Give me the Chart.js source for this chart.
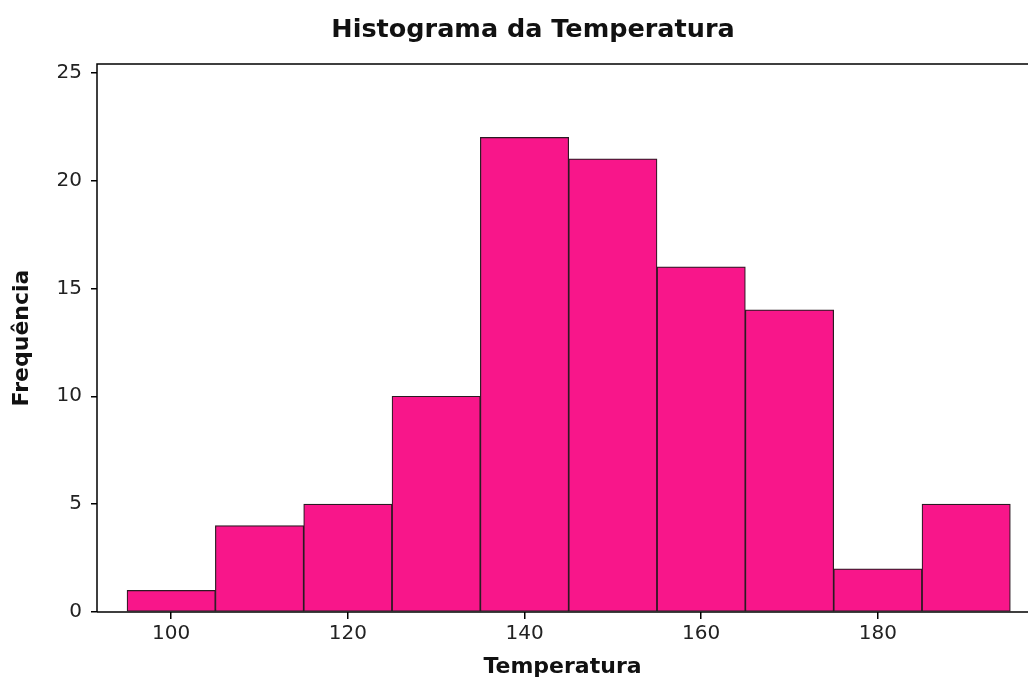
<!DOCTYPE html>
<html>
<head>
<meta charset="utf-8">
<script src="https://cdn.jsdelivr.net/npm/chart.js@4.4.1/dist/chart.umd.min.js"></script>
<style>
html,body{margin:0;padding:0;background:#fff;}
#wrap{width:1028px;height:684px;position:relative;}
</style>
</head>
<body>
<div id="wrap"><canvas id="c" width="1028" height="684"></canvas></div>
<script>
// Histogram data
const binCenters = [100, 110, 120, 130, 140, 150, 160, 170, 180, 190];
const frequencies = [1, 4, 5, 10, 22, 21, 16, 14, 2, 5];
const xTickValues = [100, 120, 140, 160, 180];
const yTickValues = [0, 5, 10, 15, 20, 25];
const titleText = 'Histograma da Temperatura';
const xLabel = 'Temperatura';
const yLabel = 'Frequência';

const points = binCenters.map((c, i) => ({x: c, y: frequencies[i]}));

const frame = {
  id: 'frame',
  afterDatasetsDraw(chart) {
    const a = chart.chartArea, ctx = chart.ctx;
    ctx.save();
    ctx.strokeStyle = '#000';
    ctx.lineWidth = 1.5;
    ctx.beginPath();
    ctx.moveTo(a.left, a.bottom);
    ctx.lineTo(a.left, a.top);
    ctx.lineTo(a.right, a.top);
    ctx.moveTo(a.left, a.bottom);
    ctx.lineTo(a.right, a.bottom);
    ctx.stroke();
    ctx.restore();
  }
};

const titleDraw = {
  id: 'titleDraw',
  afterDraw(chart) {
    const ctx = chart.ctx;
    ctx.save();
    ctx.fillStyle = '#111';
    ctx.font = 'bold 25.5px "DejaVu Sans"';
    ctx.textAlign = 'center';
    ctx.textBaseline = 'middle';
    ctx.fillText(titleText, 533, 30);
    ctx.restore();
  }
};

new Chart(document.getElementById('c'), {
  type: 'bar',
  data: {
    datasets: [{
      data: points,
      backgroundColor: '#F8168A',
      borderColor: '#2a1a22',
      borderWidth: 1.2,
      barPercentage: 1,
      categoryPercentage: 1,
      borderSkipped: false
    }]
  },
  options: {
    responsive: false,
    animation: false,
    layout: {padding: {left: 0, right: 0, top: 64, bottom: 0}},
    plugins: {
      legend: {display: false},
      tooltip: {enabled: false},
      title: {display: false}
    },
    scales: {
      x: {
        type: 'linear',
        min: 91.6,
        max: 197,
        offset: false,
        afterBuildTicks: s => { s.ticks = xTickValues.map(v => ({value: v})); },
        afterFit: s => { s.height = 72; },
        grid: {display: true, offset: false, drawOnChartArea: false, drawTicks: true, tickLength: 7, color: '#000', lineWidth: 1.5},
        border: {display: false},
        ticks: {color: '#222', font: {family: 'DejaVu Sans', size: 20}, padding: 3, maxRotation: 0},
        title: {display: true, text: xLabel, color: '#111', font: {family: 'DejaVu Sans', size: 22, weight: 'bold'}, padding: {top: 0, bottom: 4}}
      },
      y: {
        min: 0,
        max: 25.4,
        afterBuildTicks: s => { s.ticks = yTickValues.map(v => ({value: v})); },
        afterFit: s => { s.width = 97; },
        grid: {display: true, drawOnChartArea: false, drawTicks: true, tickLength: 6, color: '#000', lineWidth: 1.5},
        border: {display: false},
        ticks: {color: '#222', font: {family: 'DejaVu Sans', size: 20}, padding: 9},
        title: {display: true, text: yLabel, color: '#111', font: {family: 'DejaVu Sans', size: 22, weight: 'bold'}, padding: {top: 9, bottom: 0}}
      }
    }
  },
  plugins: [frame, titleDraw]
});
</script>
</body>
</html>
